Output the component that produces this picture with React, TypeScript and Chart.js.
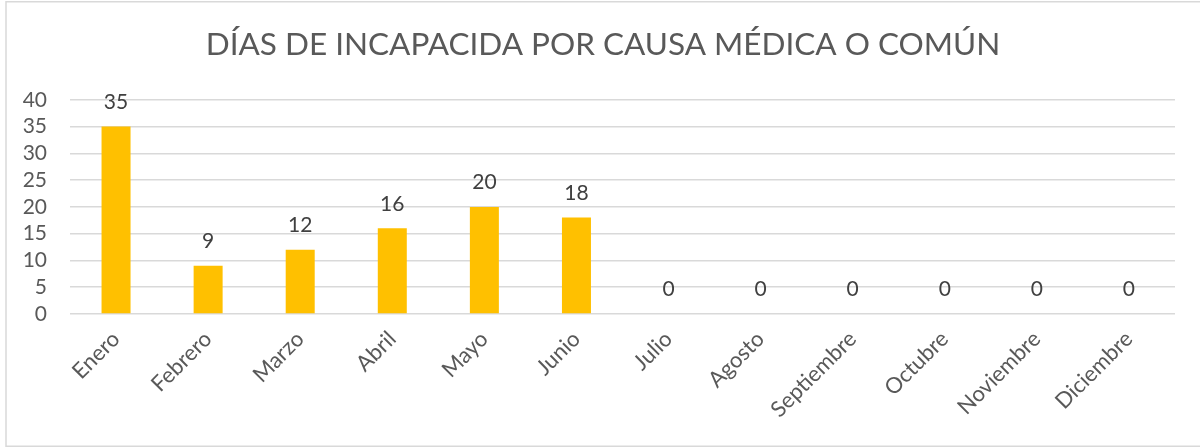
import React, { useEffect, useRef } from "react";
import { Chart, registerables } from "chart.js";

Chart.register(...registerables);

const months = [
  "Enero", "Febrero", "Marzo", "Abril", "Mayo", "Junio",
  "Julio", "Agosto", "Septiembre", "Octubre", "Noviembre", "Diciembre",
];
const dias = [35, 9, 12, 16, 20, 18, 0, 0, 0, 0, 0, 0];
const chartTitle = "DÍAS DE INCAPACIDA POR CAUSA MÉDICA O COMÚN";
const yMax = 40;
const yStep = 5;

const FONT = "Lato, 'Open Sans', sans-serif";

const extrasPlugin = {
  id: "extras",
  beforeDraw(chart: any) {
    const { ctx } = chart;
    ctx.save();
    ctx.fillStyle = "#ffffff";
    ctx.fillRect(0, 0, chart.width, chart.height);
    ctx.strokeStyle = "#d9d9d9";
    ctx.lineWidth = 1.5;
    ctx.beginPath();
    ctx.moveTo(1210, 1.75);
    ctx.lineTo(6, 1.75);
    ctx.lineTo(6, 446.25);
    ctx.lineTo(1210, 446.25);
    ctx.stroke();
    ctx.restore();
  },
  afterDatasetsDraw(chart: any) {
    const { ctx } = chart;
    const meta = chart.getDatasetMeta(0);
    ctx.save();
    ctx.fillStyle = "#404040";
    ctx.font = `21px ${FONT}`;
    ctx.textAlign = "center";
    ctx.textBaseline = "bottom";
    meta.data.forEach((bar: any, i: number) => {
      const v = chart.data.datasets[0].data[i];
      ctx.fillText(String(v), bar.x, bar.y - 14);
    });
    ctx.restore();
  },
};

export default function App() {
  const ref = useRef<HTMLCanvasElement | null>(null);
  useEffect(() => {
    if (!ref.current) return;
    const chart = new Chart(ref.current, {
      type: "bar",
      data: {
        labels: months,
        datasets: [
          {
            label: "Días",
            data: dias,
            backgroundColor: "#FFC000",
            borderWidth: 0,
            barPercentage: 0.315,
            categoryPercentage: 1,
            yAxisID: "y",
          },
        ],
      },
      options: {
        animation: false,
        responsive: false,
        maintainAspectRatio: false,
        layout: { padding: { top: 0, right: 0, left: 6, bottom: 0 } },
        plugins: {
          legend: { display: false },
          tooltip: { enabled: false },
          title: {
            display: true,
            text: chartTitle,
            color: "#595959",
            font: { family: FONT, size: 31.5, weight: "normal" },
            padding: { top: 26, bottom: 36 },
          },
        },
        scales: {
          x: {
            grid: { display: false },
            border: { display: false },
            ticks: {
              color: "#595959",
              font: { family: FONT, size: 22 },
              maxRotation: 45,
              minRotation: 45,
              padding: 4,
              autoSkip: false,
            },
            afterFit(scale: any) {
              scale.height = 134;
            },
          },
          y: {
            min: 0,
            max: yMax,
            grid: { color: "#d9d9d9", lineWidth: 1.5, drawTicks: false },
            border: { display: false },
            ticks: {
              stepSize: yStep,
              autoSkip: false,
              color: "#595959",
              font: { family: FONT, size: 21 },
              padding: 23,
            },
            afterFit(scale: any) {
              scale.width = 64;
            },
          },
          yRight: {
            position: "right",
            min: 0,
            max: yMax,
            grid: { display: false },
            border: { display: false },
            ticks: { display: false },
            afterFit(scale: any) {
              scale.width = 25;
            },
          },
        },
      },
      plugins: [extrasPlugin],
    });
    return () => chart.destroy();
  }, []);
  return (
    <div style={{ position: "fixed", left: 0, top: 0, width: 1200, height: 448, background: "#fff" }}>
      <canvas ref={ref} width={1200} height={448} style={{ display: "block" }} />
    </div>
  );
}
